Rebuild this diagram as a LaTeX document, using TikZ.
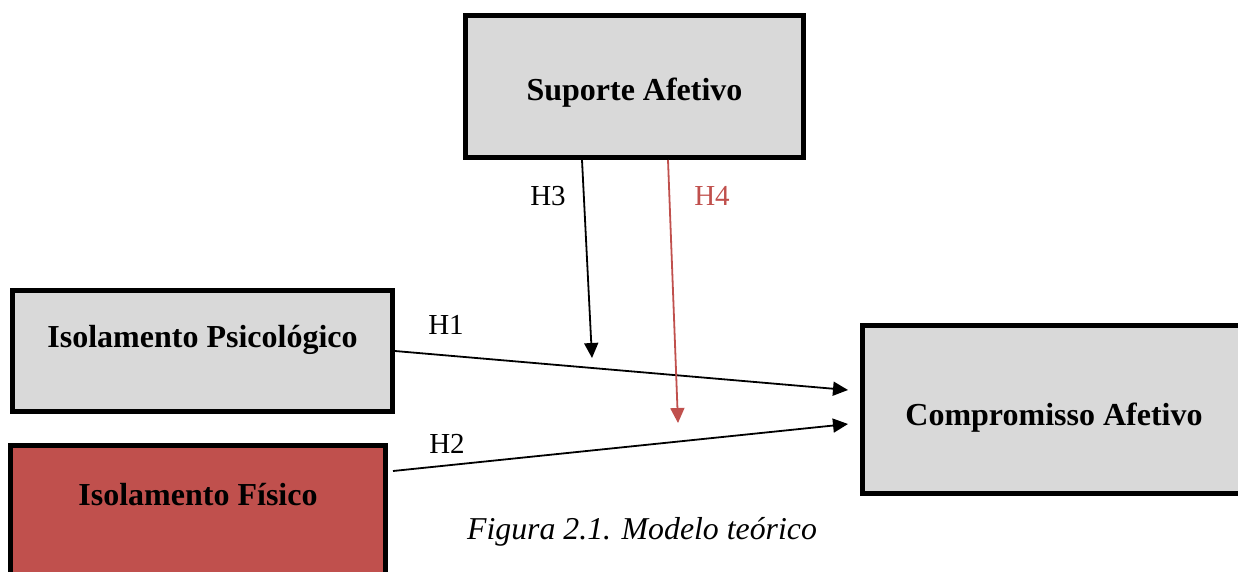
\documentclass[tikz,border=0pt]{standalone}
\usepackage{fontspec}
\setmainfont{Liberation Serif}
\usetikzlibrary{calc,arrows.meta}
\definecolor{boxgray}{HTML}{D9D9D9}
\definecolor{boxred}{HTML}{C0504D}
\tikzset{
  construct/.style={draw=black, line width=5pt, inner sep=0pt, minimum height=0pt,
    font=\fontsize{32}{37}\selectfont\bfseries},
  path/.style={line width=1.8pt, -{Triangle[length=15pt,width=14pt]}},
  hyp/.style={font=\fontsize{29}{34}\selectfont},
}
\begin{document}
\begin{tikzpicture}[x=1pt,y=-1pt]
\useasboundingbox (0,0) rectangle (1238,571);
\clip (0,0) rectangle (1238,571);

% constructs
\node[construct, fill=boxgray, minimum width=338pt, text height=84.5pt, text depth=57.5pt]
  (sup) at (634.5,86.5) {Suporte Afetivo};
\node[construct, fill=boxgray, minimum width=380pt, text height=56.5pt, text depth=64.5pt]
  (psi) at (202.5,351) {Isolamento Psicológico};
\node[construct, fill=boxred, minimum width=375pt, text height=60pt, text depth=114.5pt]
  (fis) at (198,532.75) {Isolamento Físico};
\node[construct, fill=boxgray, minimum width=383pt, text height=99.5pt, text depth=68.5pt]
  (comp) at (1054,409.5) {Compromisso Afetivo};

% free ends of the moderating paths
\coordinate (h3end) at (592,358);
\coordinate (h4end) at (678,423);

% hypothesised paths
\draw[path] (psi.east) -- ($(comp.west)+(-12,-19.5)$);
\draw[path] ($(fis.east)+(5,-61.75)$) -- ($(comp.west)+(-12,14.5)$);
\draw[path] ($(sup.south)+(-52.5,0)$) -- (h3end);
\draw[path, draw=boxred, fill=boxred] ($(sup.south)+(33.5,0)$) -- (h4end);

% path labels
\node[hyp] (lh1) at (446,325) {H1};
\node[hyp] (lh2) at (447,444) {H2};
\node[hyp] (lh3) at (548,196) {H3};
\node[hyp, text=boxred] (lh4) at (712,196) {H4};

% caption
\node[font=\fontsize{31.8}{37}\selectfont\itshape] (cap) at (642,532) {Figura 2.1. Modelo teórico};
\end{tikzpicture}
\end{document}
